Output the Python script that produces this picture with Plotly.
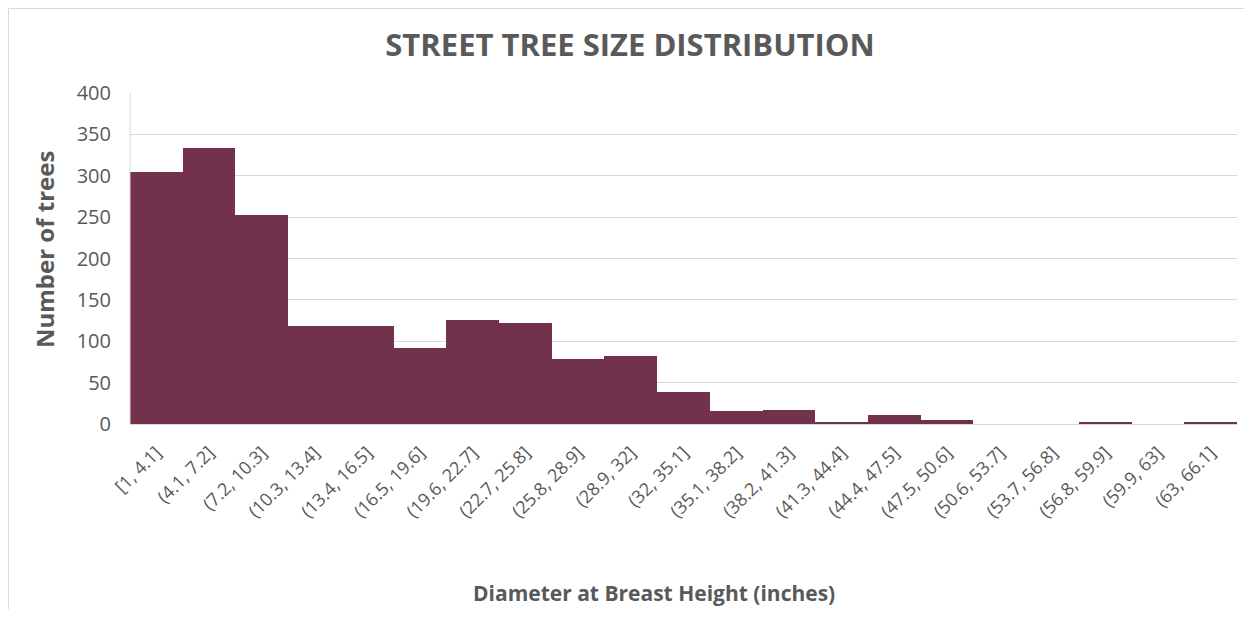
import plotly.graph_objects as go

bins = ["[1, 4.1]", "(4.1, 7.2]", "(7.2, 10.3]", "(10.3, 13.4]", "(13.4, 16.5]",
        "(16.5, 19.6]", "(19.6, 22.7]", "(22.7, 25.8]", "(25.8, 28.9]", "(28.9, 32]",
        "(32, 35.1]", "(35.1, 38.2]", "(38.2, 41.3]", "(41.3, 44.4]", "(44.4, 47.5]",
        "(47.5, 50.6]", "(50.6, 53.7]", "(53.7, 56.8]", "(56.8, 59.9]", "(59.9, 63]",
        "(63, 66.1]"]
counts = [305, 334, 253, 118, 119, 92, 126, 122, 78, 82, 39, 16, 17, 3, 11, 5, 0, 0, 2, 0, 2]
y_ticks = [0, 50, 100, 150, 200, 250, 300, 350, 400]

FONT = "Open Sans"
GRAY = "#595959"

# page offset of the figure (body margin) is 8px
W, H = 1244, 601
PL, PR, PT, PB = 130, 1237, 93, 424  # plot area in page pixels
PW, PH = PR - PL, PB - PT


def px(x):
    return (x - PL) / PW


def py(y):
    return (PB - y) / PH


fig = go.Figure(go.Bar(x=bins, y=counts, marker=dict(color="#72324D", line=dict(width=0))))

fig.update_layout(
    width=W, height=H,
    margin=dict(l=PL - 8, r=W - (PR - 8), t=PT - 8, b=H - (PB - 8)),
    paper_bgcolor="white", plot_bgcolor="white",
    bargap=0,
    showlegend=False,
    font=dict(family=FONT, color=GRAY, size=15),
    title=dict(text="<b>STREET TREE SIZE DISTRIBUTION</b>", x=(630 - 8) / W, xanchor="center",
               y=1 - (45 - 8) / H, yanchor="middle", font=dict(family=FONT, size=31, color=GRAY)),
)
fig.update_yaxes(range=[0, 400], tickvals=y_ticks, showgrid=True, gridcolor="#D9D9D9", gridwidth=1,
                 zeroline=False, showline=False, ticks="", ticklabelstandoff=18,
                 tickfont=dict(family=FONT, size=20, color=GRAY), fixedrange=True)
fig.update_xaxes(tickangle=-45, showline=True, linecolor="#D9D9D9", linewidth=1, ticks="",
                 ticklabelstandoff=10,
                 tickfont=dict(family=FONT, size=18, color=GRAY), fixedrange=True)

fig.add_annotation(text="<b>Number of trees</b>", textangle=-90, xref="paper", yref="paper",
                   x=px(44), y=py(250), xanchor="center", yanchor="middle",
                   showarrow=False, font=dict(family=FONT, size=24, color=GRAY))
fig.add_annotation(text="<b>Diameter at Breast Height (inches)</b>", xref="paper", yref="paper",
                   x=px(654), y=py(593), xanchor="center", yanchor="middle",
                   showarrow=False, font=dict(family=FONT, size=21, color=GRAY))

# chart border
fig.add_shape(type="line", xref="paper", yref="paper", x0=px(8.5), x1=px(1300),
              y0=py(8.5), y1=py(8.5), line=dict(color="#D9D9D9", width=1))
fig.add_shape(type="line", xref="paper", yref="paper", x0=px(8.5), x1=px(8.5),
              y0=py(8.5), y1=py(700), line=dict(color="#D9D9D9", width=1))
fig.add_shape(type="line", xref="paper", yref="paper", x0=0, x1=0, y0=0, y1=1,
              line=dict(color="#D9D9D9", width=1))

fig.write_html("out.html")
